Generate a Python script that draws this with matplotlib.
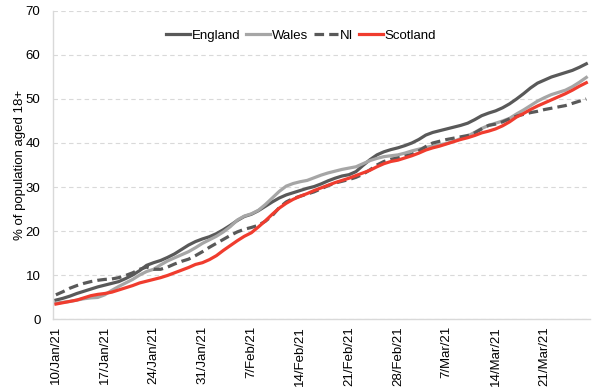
import matplotlib; matplotlib.use('Agg')
import numpy as np
import pandas as pd
from matplotlib import dates as md
from matplotlib import pyplot as plt
from matplotlib.ticker import FuncFormatter, MultipleLocator

plt.rcParams['font.family'] = ['Liberation Sans', 'DejaVu Sans']

dates = pd.date_range('2021-01-10', '2021-03-27', freq='D')

england = [4.3, 4.7, 5.2, 5.8, 6.3, 6.8, 7.3, 7.7, 8.1, 8.5,
           9.2, 10.0, 11.0, 12.2, 12.8, 13.3, 14.0, 14.8, 15.8, 16.8,
           17.6, 18.2, 18.7, 19.4, 20.3, 21.3, 22.4, 23.3, 23.8, 24.6,
           25.6, 26.6, 27.5, 28.2, 28.7, 29.2, 29.7, 30.1, 30.7, 31.4,
           32.0, 32.5, 32.8, 33.5, 34.9, 36.2, 37.3, 38.0, 38.5, 38.9,
           39.4, 40.0, 40.8, 41.8, 42.4, 42.8, 43.2, 43.6, 44.0, 44.5,
           45.3, 46.2, 46.8, 47.3, 48.0, 48.9, 50.0, 51.2, 52.5, 53.6,
           54.3, 55.0, 55.5, 56.0, 56.5, 57.2, 58.0]
wales = [3.6, 3.8, 4.0, 4.3, 4.6, 4.8, 4.9, 5.5, 6.5, 7.4,
         8.2, 9.0, 10.0, 10.8, 11.3, 12.3, 13.2, 13.9, 14.6, 15.3,
         16.2, 17.2, 18.0, 18.8, 19.8, 21.0, 22.5, 23.4, 23.9, 24.7,
         26.0, 27.5, 29.0, 30.2, 30.8, 31.2, 31.5, 32.1, 32.7, 33.2,
         33.6, 34.0, 34.3, 34.6, 35.3, 36.0, 36.5, 36.9, 37.1, 37.3,
         37.7, 38.2, 38.6, 39.0, 39.3, 39.6, 39.9, 40.4, 41.0, 41.6,
         42.4, 43.3, 44.0, 44.5, 45.0, 45.6, 46.6, 47.5, 48.5, 49.5,
         50.3, 51.0, 51.5, 52.0, 52.8, 53.8, 54.9]
ni = [5.5, 6.2, 7.0, 7.6, 8.1, 8.5, 8.8, 9.0, 9.1, 9.4,
      9.9, 10.5, 11.3, 11.8, 11.3, 11.3, 11.8, 12.5, 13.1, 13.6,
      14.4, 15.3, 16.3, 17.2, 18.1, 19.0, 19.8, 20.4, 20.8, 21.3,
      22.2, 23.5, 25.3, 26.6, 27.4, 27.9, 28.4, 28.9, 29.6, 30.3,
      30.9, 31.3, 31.7, 32.2, 32.9, 33.9, 35.0, 35.8, 36.3, 36.6,
      37.0, 37.4, 38.2, 39.2, 40.0, 40.4, 40.8, 41.1, 41.4, 41.7,
      42.3, 43.2, 44.0, 44.3, 44.8, 45.5, 46.1, 46.5, 46.9, 47.2,
      47.6, 47.9, 48.2, 48.5, 49.0, 49.5, 50.0]
scotland = [3.4, 3.7, 4.0, 4.3, 4.8, 5.3, 5.6, 5.8, 6.1, 6.6,
            7.1, 7.6, 8.2, 8.6, 9.0, 9.4, 9.9, 10.5, 11.1, 11.7,
            12.4, 12.8, 13.5, 14.4, 15.6, 16.7, 17.8, 18.8, 19.6, 20.9,
            22.3, 23.8, 25.2, 26.3, 27.2, 27.9, 28.5, 29.2, 29.8, 30.4,
            31.0, 31.5, 32.0, 32.6, 33.2, 33.8, 34.6, 35.3, 35.8, 36.1,
            36.6, 37.1, 37.7, 38.4, 38.9, 39.3, 39.8, 40.3, 40.8, 41.2,
            41.7, 42.3, 42.7, 43.2, 43.9, 44.8, 45.9, 46.7, 47.6, 48.4,
            49.1, 49.8, 50.5, 51.2, 52.0, 52.9, 53.7]

fig = plt.figure(figsize=(6, 3.91), dpi=100)
ax = fig.add_axes([0.0883, 0.1841, 0.8947, 0.7878])

lw = 2.3
ax.plot(dates, england, color='#595959', lw=lw, label='England')
ax.plot(dates, wales, color='#a6a6a6', lw=lw, label='Wales')
ax.plot(dates, ni, color='#595959', lw=lw, ls=(0, (3, 1.6)), label='NI')
ax.plot(dates, scotland, color='#f03c2e', lw=lw, label='Scotland')

ax.set_ylim(0, 70)
ax.yaxis.set_major_locator(MultipleLocator(10))
ax.set_xlim(dates[0] - pd.Timedelta(hours=10), dates[0] + pd.Timedelta(days=76.5))
ax.set_xticks(dates[::7])
ax.xaxis.set_major_formatter(FuncFormatter(
    lambda v, pos: '{}/{}'.format(md.num2date(v).day, md.num2date(v).strftime('%b/%y'))))

ax.grid(axis='y', color='#d9d9d9', ls=(0, (4, 3)), lw=0.8)
ax.set_axisbelow(True)
for side in ['top', 'right']:
    ax.spines[side].set_visible(False)
for side in ['left', 'bottom']:
    ax.spines[side].set_color('#d9d9d9')
    ax.spines[side].set_linewidth(1.0)
ax.tick_params(axis='both', length=0, labelsize=9.5, colors='black')
ax.tick_params(axis='y', pad=9)
ax.tick_params(axis='x', pad=5, labelrotation=90)

ax.set_ylabel('% of population aged 18+', fontsize=9.5, labelpad=0)

ax.legend(loc='center', bbox_to_anchor=(0.462, 0.92), ncol=4, frameon=False,
          fontsize=9.5, handlelength=1.8, handletextpad=0.15, columnspacing=0.45)

fig.savefig('out.png', dpi=100)
